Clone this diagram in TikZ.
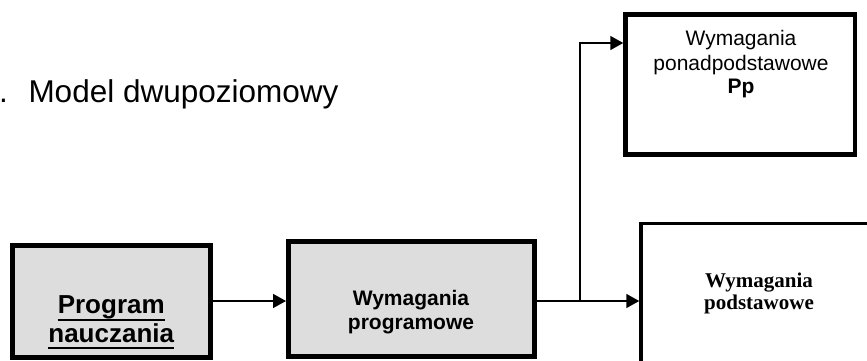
\documentclass[tikz,border=0pt]{standalone}
\usepackage{fontspec}
\setmainfont{Liberation Sans}
\newfontfamily\timesf{Liberation Serif}
\usetikzlibrary{arrows.meta}
\definecolor{boxgrey}{HTML}{DDDDDD}
\begin{document}
\begin{tikzpicture}[x=1pt,y=-1pt,
  box/.style={draw, rectangle, inner sep=0pt},
  greybox/.style={box, fill=boxgrey, line width=5pt},
  conn/.style={line width=1.6pt},
  arr/.style={conn, -{Triangle[length=13pt,width=14pt]}},
  txt/.style={anchor=base, inner sep=0pt, font=\fontsize{21}{24}\selectfont},
  bigtxt/.style={anchor=base, inner sep=0pt, font=\fontsize{26}{30}\selectfont\bfseries},
  titletxt/.style={anchor=base west, inner sep=0pt, font=\fontsize{31.5}{36}\selectfont},
  uline/.style={line width=2pt}]
\useasboundingbox (0,0) rectangle (867,360);
\clip (0,0) rectangle (867,360);

% title
\node[titletxt] (dot) at (-1,102) {.};
\node[titletxt] (title) at (28.3,102) {Model dwupoziomowy};

% boxes
\node[greybox, minimum width=197.5pt, minimum height=111.5pt] (prog) at (111.25,301.25) {};
\node[greybox, minimum width=246pt, minimum height=115pt] (wprog) at (411.5,299) {};
\node[box, line width=4.5pt, minimum width=229.5pt, minimum height=140pt] (pp) at (740.25,84.5) {};
\node[box, line width=3.5pt, minimum width=236pt, minimum height=155pt] (wp) at (759,301) {};

% texts
\node[bigtxt] (t1) at (111.25,313) {Program};
\node[bigtxt] (t2) at (111.25,342) {nauczania};
\draw[uline] ([yshift=-6.5pt]t1.base west) -- ([yshift=-6.5pt]t1.base east);
\draw[uline] ([yshift=-5.5pt]t2.base west) -- ([yshift=-5.5pt]t2.base east);

\node[txt, font=\fontsize{21}{24}\selectfont\bfseries] (w1) at (411,305) {Wymagania};
\node[txt, font=\fontsize{21}{24}\selectfont\bfseries] (w2) at (411,329) {programowe};

\node[txt] (p1) at (741,45) {Wymagania};
\node[txt] (p2) at (741,70) {ponadpodstawowe};
\node[txt, font=\fontsize{21}{24}\selectfont\bfseries] (p3) at (741,93) {Pp};

\node[txt, font=\fontsize{21}{24}\timesf\bfseries] (s1) at (759,287) {Wymagania};
\node[txt, font=\fontsize{21}{24}\timesf\bfseries] (s2) at (759,309) {podstawowe};

% connectors
\coordinate (j) at (580,301);
\coordinate (jt) at (580,43);
\draw[arr] (prog.east |- j) -- (j -| wprog.west);
\draw[conn] (wprog.east |- j) -- (j);
\draw[arr] (j) -- (wp.west);
\draw[arr] (j) -- (jt) -- (jt -| pp.west);
\end{tikzpicture}
\end{document}
